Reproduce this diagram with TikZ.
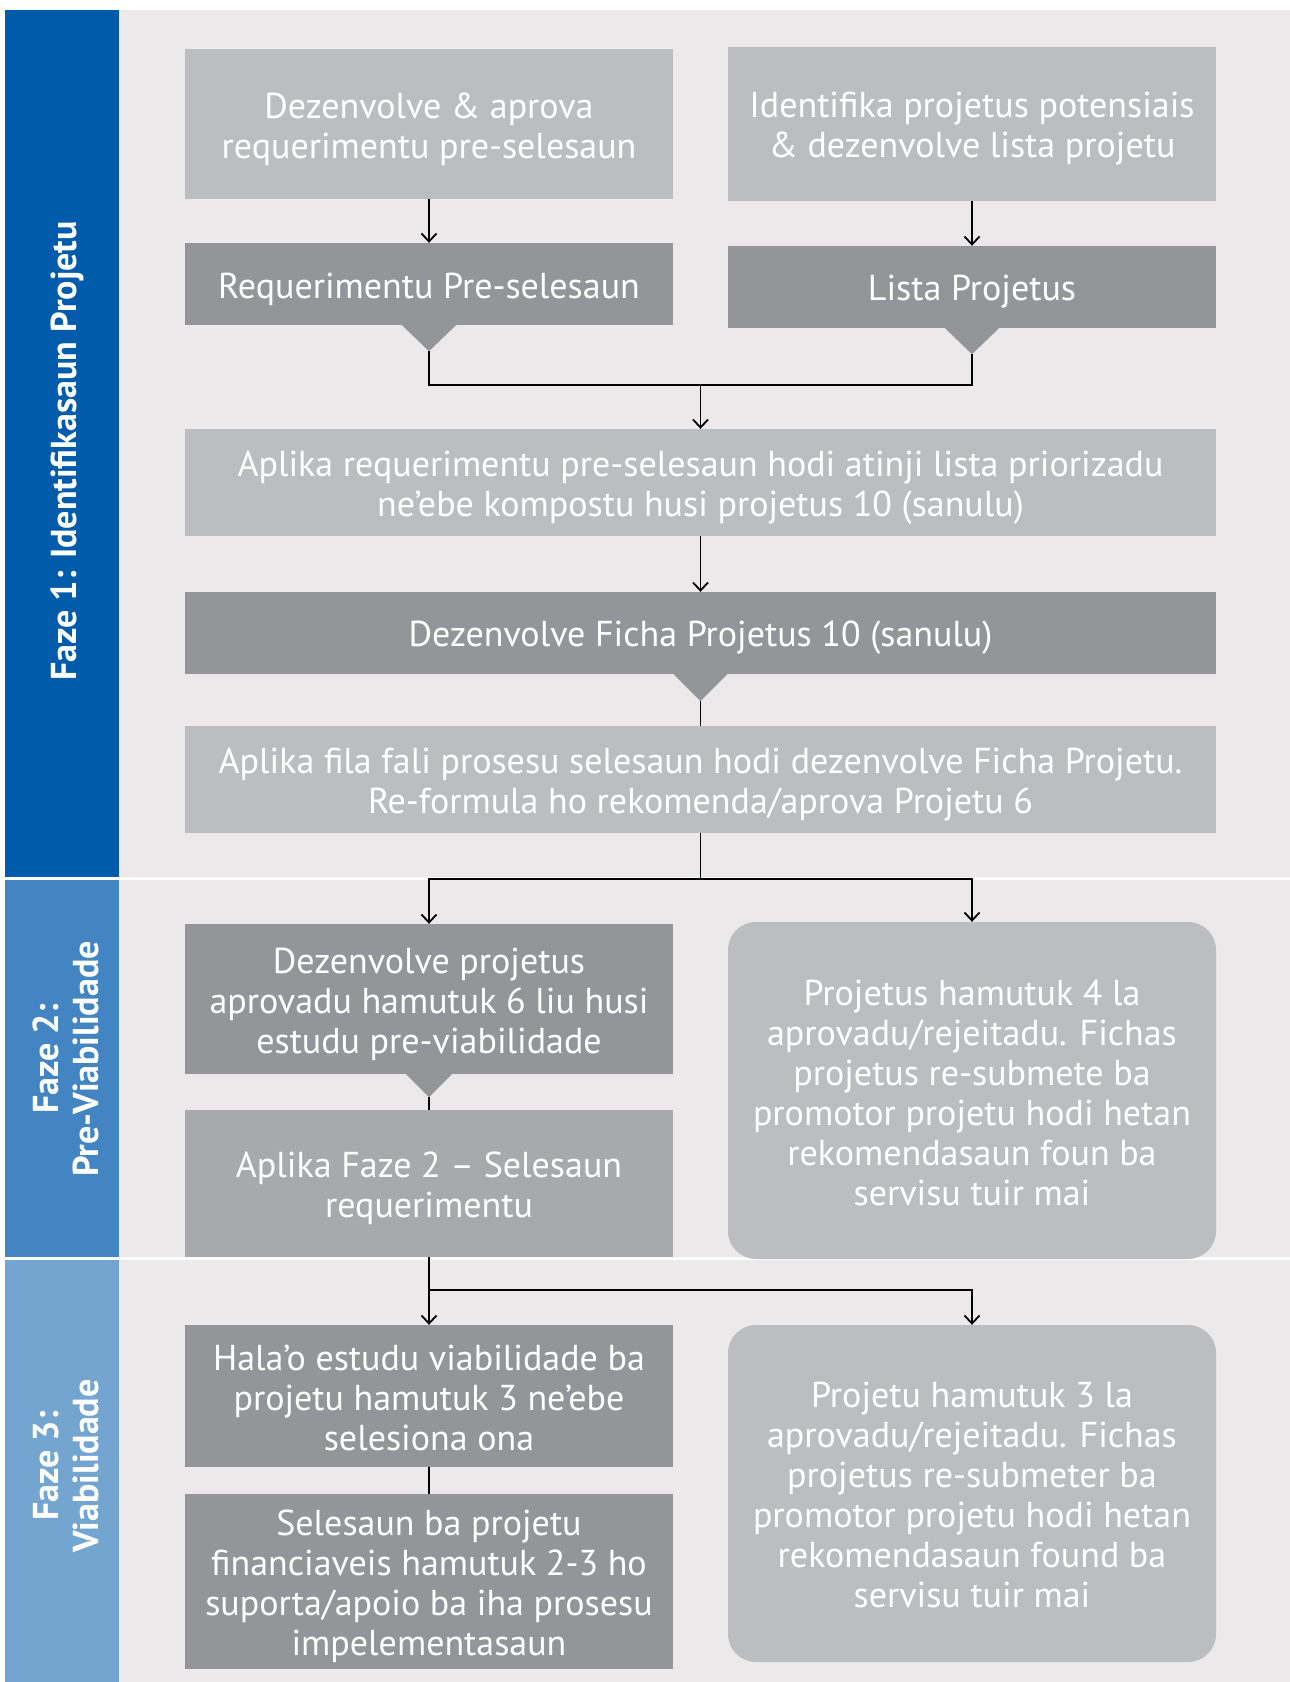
\documentclass[tikz,border=0pt]{standalone}
\usepackage{fontspec}
\setmainfont{PT Sans}
\newfontfamily\bandfont{PT Sans}
\usetikzlibrary{arrows.meta}
\definecolor{bgc}{HTML}{EBE9EA}
\definecolor{lgray}{HTML}{BCBDBF}
\definecolor{dgray}{HTML}{939598}
\definecolor{mgray}{HTML}{A7A9AC}
\definecolor{blueA}{HTML}{005CAB}
\definecolor{blueB}{HTML}{4285C2}
\definecolor{blueC}{HTML}{74A5D1}
\begin{document}
\begin{tikzpicture}[x=1pt,y=-1pt,
  box/.style={inner sep=0pt, minimum width=488pt},
  btext/.style={inner sep=0pt, text=white, align=center, font=\fontsize{36}{40}\selectfont, yshift=-5pt},
  lbox/.style={box, fill=lgray},
  dbox/.style={box, fill=dgray},
  mbox/.style={box, fill=mgray},
  rbox/.style={box, fill=lgray, rounded corners=28pt},
  wide/.style={minimum width=1031pt},
  band/.style={rotate=90, text=white, align=center, font=\bandfont\bfseries\fontsize{36}{40}\selectfont},
  conn/.style={line width=1.8pt, draw=black},
  arr/.style={conn, -{Straight Barb[length=8pt,width=15pt]}},
  tri/.style={fill=dgray}
]
\useasboundingbox (0,0) rectangle (1290,1682);
\fill[white] (0,0) rectangle (1290,1682);
% background
\fill[bgc] (119,10) rectangle (1290,1682);
% bands
\fill[blueA] (5,10) rectangle (119,877);
\fill[blueB] (5,880) rectangle (119,1257);
\fill[blueC] (5,1260) rectangle (119,1682);
\draw[white, line width=2.5pt] (5,878.5) -- (1290,878.5);
\draw[white, line width=2.5pt] (5,1258.5) -- (1290,1258.5);
\node[band] (f1) at (67,451) {Faze 1: Identifikasaun Projetu};
\node[band] (f2) at (66,1059) {Faze 2:\\Pre-Viabilidade};
\node[band] (f3) at (66,1466) {Faze 3:\\Viabilidade};

% boxes
\node[lbox, minimum height=150pt, label={[btext]center:{Dezenvolve \& aprova\\requerimentu pre-selesaun}}] (b1) at (429,124) {};
\node[lbox, minimum height=154pt, label={[btext]center:{Identifika projetus potensiais\\\& dezenvolve lista projetu}}] (b2) at (972,124) {};
\node[dbox, minimum height=82pt, label={[btext]center:{Requerimentu Pre-selesaun}}] (b3) at (429,284) {};
\node[dbox, minimum height=82pt, label={[btext]center:{Lista Projetus}}] (b4) at (972,287) {};
\node[lbox, wide, minimum height=107pt, label={[btext]center:{Aplika requerimentu pre-selesaun hodi atinji lista priorizadu\\ne’ebe kompostu husi projetus 10 (sanulu)}}] (b5) at (700.5,482.5) {};
\node[dbox, wide, minimum height=82pt, label={[btext]center:{Dezenvolve Ficha Projetus 10 (sanulu)}}] (b6) at (700.5,633) {};
\node[lbox, wide, minimum height=107pt, label={[btext]center:{Aplika fila fali prosesu selesaun hodi dezenvolve Ficha Projetu.\\Re-formula ho rekomenda/aprova Projetu 6}}] (b7) at (700.5,779.5) {};
\node[dbox, minimum height=150pt, label={[btext]center:{Dezenvolve projetus\\aprovadu hamutuk 6 liu husi\\estudu pre-viabilidade}}] (b8) at (429,999) {};
\node[rbox, minimum height=337pt, label={[btext, yshift=3pt]center:{Projetus hamutuk 4 la\\aprovadu/rejeitadu. Fichas\\projetus re-submete ba\\promotor projetu hodi hetan\\rekomendasaun foun ba\\servisu tuir mai}}] (b9) at (972,1090.5) {};
\node[mbox, minimum height=147pt, label={[btext]center:{Aplika Faze 2 – Selesaun\\requerimentu}}] (b10) at (429,1183.5) {};
\node[dbox, minimum height=142pt, label={[btext, yshift=3pt]center:{Hala’o estudu viabilidade ba\\projetu hamutuk 3 ne’ebe\\selesiona ona}}] (b11) at (429,1396) {};
\node[rbox, minimum height=337pt, label={[btext, yshift=4pt]center:{Projetu hamutuk 3 la\\aprovadu/rejeitadu. Fichas\\projetus re-submeter ba\\promotor projetu hodi hetan\\rekomendasaun found ba\\servisu tuir mai}}] (b12) at (972,1493.5) {};
\node[dbox, minimum height=175pt, label={[btext]center:{Selesaun ba projetu\\financiaveis hamutuk 2-3 ho\\suporta/apoio ba iha prosesu\\impelementasaun}}] (b13) at (429,1581.5) {};

% pointer triangles
\coordinate (t3) at ([yshift=-26pt]b3.south);
\coordinate (t4) at ([yshift=-26pt]b4.south);
\coordinate (t6) at ([yshift=-27pt]b6.south);
\coordinate (t8) at ([yshift=-23pt]b8.south);
\fill[tri] ([xshift=-27pt]b3.south) -- ([xshift=27pt]b3.south) -- (t3) -- cycle;
\fill[tri] ([xshift=-27pt]b4.south) -- ([xshift=27pt]b4.south) -- (t4) -- cycle;
\fill[tri] ([xshift=-27pt]b6.south) -- ([xshift=27pt]b6.south) -- (t6) -- cycle;
\fill[tri] ([xshift=-23pt]b8.south) -- ([xshift=23pt]b8.south) -- (t8) -- cycle;

% junction points
\coordinate (m1) at (700.5,385);
\coordinate (m2) at (700.5,879);
\coordinate (m3) at (429,1290);

% connectors
\draw[arr] (b1.south) -- (b3.north);
\draw[arr] (b2.south) -- (b4.north);
\draw[conn] (t3) |- (m1) -| (t4);
\draw[arr] (m1) -- (b5.north);
\draw[arr] (b5.south) -- (b6.north);
\draw[conn] (t6) -- (b7.north);
\draw[conn] (b7.south) -- (m2);
\draw[arr] (m2) -| (b8.north);
\draw[arr] (m2) -| (b9.north);
\draw[conn] (t8) -- (b10.north);
\draw[arr] (b10.south) -- (b11.north);
\draw[arr] (m3) -| (b12.north);
\draw[conn] (b11.south) -- (b13.north);
\end{tikzpicture}
\end{document}
